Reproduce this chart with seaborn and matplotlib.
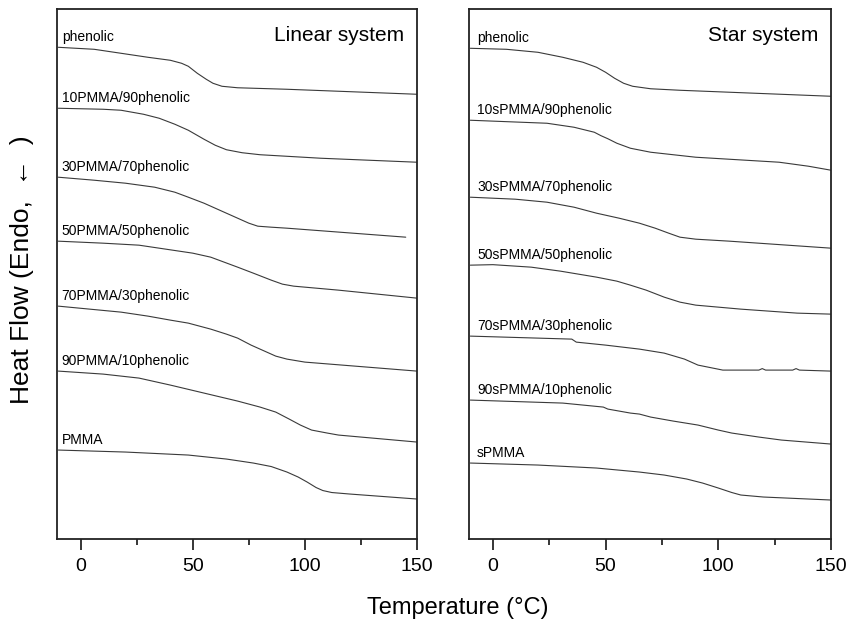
import numpy as np
import pandas as pd
import seaborn as sns
import matplotlib.pyplot as plt

sns.set_style("ticks")
plt.rcParams['font.family'] = ['Liberation Sans', 'DejaVu Sans']
plt.rcParams['text.color'] = 'black'

# DSC traces (temperature in C, heat flow in arbitrary stacked units)
lin_names = ['phenolic', '10PMMA/90phenolic', '30PMMA/70phenolic', '50PMMA/50phenolic',
             '70PMMA/30phenolic', '90PMMA/10phenolic', 'PMMA']
lin_T = [
    [-10, 6, 30, 40, 45, 48, 52, 56, 59, 63, 70, 92, 150],
    [-10, 10, 18, 28, 35, 42, 48, 55, 60, 65, 72, 80, 107, 150],
    [-10, 6, 20, 33, 42, 48, 55, 62, 70, 75, 79, 85, 92, 145],
    [-10, 10, 26, 41, 50, 58, 64, 70, 77, 85, 90, 95, 115, 150],
    [-10, 18, 30, 40, 48, 58, 65, 70, 76, 82, 87, 92, 100, 150],
    [-10, 10, 26, 40, 55, 70, 80, 87, 93, 98, 103, 110, 115, 150],
    [-10, 20, 48, 65, 77, 85, 92, 97, 101, 105, 108, 112, 120, 150],
]
lin_hf = [
    [49.2, 49.0, 48.2, 47.9, 47.6, 47.3, 46.6, 46.0, 45.6, 45.3, 45.15, 45.0, 44.5],
    [43.1, 43.0, 42.9, 42.5, 42.1, 41.5, 40.9, 40.0, 39.4, 38.95, 38.65, 38.45, 38.1, 37.7],
    [36.2, 35.9, 35.6, 35.2, 34.7, 34.2, 33.6, 32.9, 32.1, 31.6, 31.3, 31.2, 31.1, 30.2],
    [29.8, 29.6, 29.4, 28.9, 28.6, 28.2, 27.7, 27.2, 26.6, 25.9, 25.5, 25.3, 24.9, 24.1],
    [23.3, 22.7, 22.3, 21.9, 21.6, 21.0, 20.5, 20.1, 19.4, 18.8, 18.3, 18.0, 17.7, 16.8],
    [16.8, 16.5, 16.1, 15.4, 14.6, 13.8, 13.2, 12.7, 12.0, 11.4, 10.9, 10.6, 10.4, 9.7],
    [8.9, 8.7, 8.4, 8.0, 7.6, 7.25, 6.7, 6.2, 5.7, 5.15, 4.85, 4.65, 4.5, 4.0],
]

star_names = ['phenolic', '10sPMMA/90phenolic', '30sPMMA/70phenolic', '50sPMMA/50phenolic',
              '70sPMMA/30phenolic', '90sPMMA/10phenolic', 'sPMMA']
star_T = [
    [-10, 6, 20, 31, 40, 46, 50, 54, 58, 62, 70, 83, 150],
    [-10, 24, 36, 45, 48, 51, 55, 61, 70, 90, 127, 140, 150],
    [-10, 10, 24, 36, 46, 56, 65, 72, 78, 83, 90, 105, 150],
    [-10, 0, 17, 30, 46, 55, 61, 68, 76, 83, 90, 110, 135, 150],
    [-10, 35, 37, 50, 65, 76, 85, 91, 102, 118, 119.5, 121, 133, 134.5, 136, 150],
    [-10, 31, 49, 51, 61, 65, 70, 80, 91, 100, 106, 118, 128, 150],
    [-10, 20, 46, 65, 76, 86, 93, 100, 106, 110, 120, 150],
]
star_hf = [
    [49.1, 49.0, 48.7, 48.2, 47.7, 47.2, 46.7, 46.1, 45.6, 45.3, 45.05, 44.9, 44.3],
    [41.9, 41.6, 41.2, 40.7, 40.35, 40.05, 39.6, 39.1, 38.7, 38.2, 37.7, 37.3, 36.9],
    [34.2, 34.0, 33.7, 33.2, 32.6, 32.1, 31.6, 31.1, 30.6, 30.2, 30.0, 29.8, 29.1],
    [27.4, 27.45, 27.2, 26.8, 26.2, 25.8, 25.4, 24.9, 24.2, 23.7, 23.4, 23.0, 22.6, 22.5],
    [20.3, 20.0, 19.7, 19.4, 19.0, 18.6, 18.0, 17.4, 16.9, 16.9, 17.05, 16.9, 16.9, 17.05, 16.9, 16.8],
    [13.9, 13.6, 13.2, 13.0, 12.6, 12.5, 12.2, 11.8, 11.4, 10.9, 10.6, 10.2, 9.9, 9.5],
    [7.6, 7.4, 7.1, 6.7, 6.4, 6.0, 5.6, 5.1, 4.65, 4.4, 4.2, 3.9],
]

fig = plt.figure(figsize=(8.49, 6.25), dpi=100)
ax1 = fig.add_axes([0.0671, 0.1376, 0.424, 0.8475])
ax2 = fig.add_axes([0.5524, 0.1376, 0.4264, 0.8475])

panels = [(ax1, lin_names, lin_T, lin_hf, 'Linear system', -8.5),
          (ax2, star_names, star_T, star_hf, 'Star system', -7.0)]

for ax, names, Ts, hfs, title, lab_x in panels:
    for name, T, hf in zip(names, Ts, hfs):
        df = pd.DataFrame({'T': T, 'hf': hf})
        sns.lineplot(data=df, x='T', y='hf', ax=ax, color='#3a3a3a', lw=0.8,
                     sort=False, estimator=None)
        ax.text(lab_x, hf[0] + 0.35, name, fontsize=10, ha='left', va='bottom')
    ax.text(0.965, 0.968, title, transform=ax.transAxes, fontsize=15,
            ha='right', va='top')
    ax.set_xlim(-10.6, 150)
    ax.set_ylim(0, 53)
    ax.set_xticks([0, 50, 100, 150])
    ax.set_xticks([25, 75, 125], minor=True)
    ax.set_yticks([])
    ax.set_xlabel('')
    ax.set_ylabel('')
    ax.tick_params(axis='x', which='major', direction='out', length=8, width=1.1,
                   labelsize=14, pad=6, colors='black')
    ax.tick_params(axis='x', which='minor', direction='out', length=4, width=1.1,
                   colors='black')
    for sp in ax.spines.values():
        sp.set_visible(True)
        sp.set_linewidth(1.3)
        sp.set_color('#222222')

fig.text(0.539, 0.027, 'Temperature (\u00b0C)', fontsize=17, ha='center', va='center')
fig.text(0.026, 0.568, 'Heat Flow (Endo,  \u2190  )', fontsize=19, rotation=90,
         ha='center', va='center')

fig.savefig('out.png', dpi=100)
